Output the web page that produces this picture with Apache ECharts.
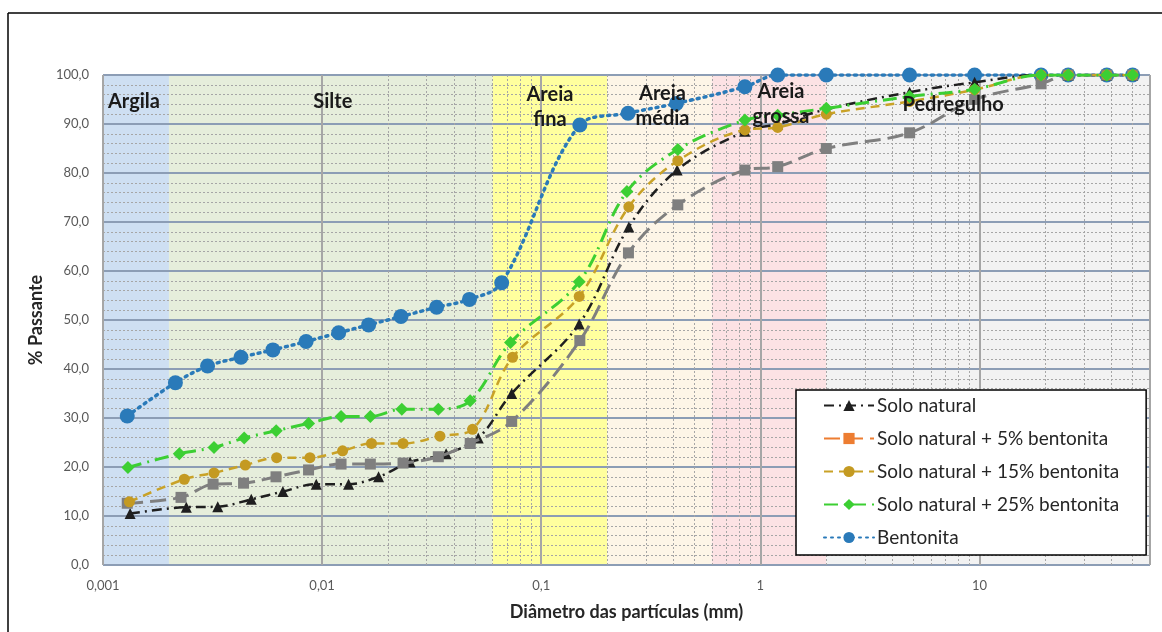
<!DOCTYPE html>
<html><head><meta charset="utf-8">
<script src="https://cdn.jsdelivr.net/npm/echarts@6/dist/echarts.min.js"></script>
<style>html,body{margin:0;padding:0;background:#fff}#c{width:1162px;height:632px}</style>
</head><body><div id="c"></div><script>
// ---- data ----
const xTickLabels = ['0,001', '0,01', '0,1', '1', '10'];
const seriesNames = ['Solo natural', 'Solo natural + 5% bentonita', 'Solo natural + 15% bentonita', 'Solo natural + 25% bentonita', 'Bentonita'];

const naturalD = [0.00133, 0.0024, 0.00334, 0.00475, 0.00662, 0.0094, 0.0132, 0.0181, 0.0252, 0.0368, 0.0516, 0.0733, 0.149, 0.251, 0.417, 0.85, 1.2, 2.0, 4.8, 9.5, 19.1, 25.4, 38.1, 50];
const naturalP = [10.5, 11.8, 11.9, 13.4, 15.0, 16.5, 16.5, 18.0, 21.0, 22.7, 25.9, 35.0, 49.2, 69.0, 80.6, 88.5, 90.0, 93.0, 96.5, 98.5, 100, 100, 100, 100];

const b5D = [0.00129, 0.00227, 0.00318, 0.00438, 0.00616, 0.00867, 0.0122, 0.0166, 0.0234, 0.0339, 0.0474, 0.0733, 0.15, 0.25, 0.42, 0.85, 1.2, 2.0, 4.8, 9.5, 19.1, 25.4, 38.1, 50];
const b5P = [12.6, 13.8, 16.5, 16.7, 18.0, 19.4, 20.6, 20.6, 20.8, 22.1, 24.8, 29.3, 45.8, 63.7, 73.5, 80.6, 81.3, 85.0, 88.2, 95.0, 98.2, 100, 100, 100];

const b15D = [0.00132, 0.00235, 0.00321, 0.00446, 0.0062, 0.0088, 0.0124, 0.0168, 0.0234, 0.0345, 0.0486, 0.074, 0.149, 0.251, 0.42, 0.85, 1.2, 2.0, 4.8, 9.5, 19.1, 25.4, 38.1, 50];
const b15P = [12.9, 17.5, 18.8, 20.4, 21.9, 21.9, 23.3, 24.8, 24.8, 26.3, 27.7, 42.4, 54.8, 73.1, 82.5, 88.8, 89.3, 92.0, 94.6, 97.0, 100, 100, 100, 100];

const b25D = [0.0013, 0.00223, 0.00321, 0.00441, 0.00617, 0.00867, 0.0122, 0.0166, 0.0231, 0.0339, 0.0474, 0.0724, 0.149, 0.246, 0.42, 0.85, 1.2, 2.0, 4.8, 9.5, 19.1, 25.4, 38.1, 50];
const b25P = [19.9, 22.7, 24.0, 25.9, 27.4, 28.9, 30.3, 30.3, 31.8, 31.8, 33.5, 45.4, 57.8, 76.2, 84.8, 90.8, 91.8, 93.2, 95.6, 97.1, 100, 100, 100, 100];

const bentD = [0.00129, 0.00214, 0.0030, 0.00426, 0.00596, 0.00845, 0.0119, 0.0163, 0.0229, 0.0333, 0.047, 0.066, 0.15, 0.249, 0.414, 0.85, 1.2, 2.0, 4.8, 9.5, 19.1, 25.4, 38.1, 50];
const bentP = [30.4, 37.2, 40.6, 42.4, 43.9, 45.6, 47.4, 49.0, 50.7, 52.6, 54.2, 57.6, 89.8, 92.2, 94.2, 97.6, 100, 100, 100, 100, 100, 100, 100, 100];

const bandNames = ['Argila', 'Silte', 'Areia\nfina', 'Areia\nmédia', 'Areia\ngrossa', 'Pedregulho'];
const bandLimits = [0.001, 0.002, 0.06, 0.2, 0.6, 2, 60];

const minorMultipliers = [2, 3, 4, 5, 6, 7, 8, 9];
const decades = [0.001, 0.01, 0.1, 1, 10];

// ---- styles ----
const FONT = 'Lato, "Open Sans", sans-serif';
const bandColors = ['#cedff2', '#e6eedb', '#ffff9e', '#fdf5e7', '#fce2e4', '#f2f2f2'];
const bandLabelOffsets = [[-2, 16], [2, 16], [0, 7], [3, 6], [12, 4], [-35, 19]];

const zip = (a, b) => a.map((d, i) => [d, b[i]]);

const minorLines = [];
decades.forEach(dec => minorMultipliers.forEach(m => {
  const v = dec * m;
  if (v < 60) minorLines.push({xAxis: v});
}));

const bandAreas = bandNames.map((n, i) => [
  {xAxis: bandLimits[i], yAxis: 0, itemStyle: {color: bandColors[i]}},
  {xAxis: bandLimits[i + 1], yAxis: 100}
]);
const bandLabels = bandNames.map((n, i) => [
  {
    name: n, xAxis: bandLimits[i], yAxis: 0,
    itemStyle: {color: 'rgba(0,0,0,0)'},
    label: {show: true, position: 'insideTop', distance: 0, offset: bandLabelOffsets[i],
      formatter: n, fontFamily: FONT, fontWeight: 'bold', fontSize: 20,
      lineHeight: (i >= 2 && i <= 4) ? 25 : 22, color: '#1a1a1a', align: 'center'}
  },
  {xAxis: bandLimits[i + 1], yAxis: 100}
]);

const chart = echarts.init(document.getElementById('c'), null, {renderer: 'canvas'});
chart.setOption({
  animation: false,
  textStyle: {fontFamily: FONT},
  graphic: [
    {type: 'line', shape: {x1: 8, y1: 13, x2: 1162, y2: 13}, style: {stroke: '#000', lineWidth: 1.5}},
    {type: 'line', shape: {x1: 8, y1: 13, x2: 8, y2: 632}, style: {stroke: '#000', lineWidth: 1.5}}
  ],
  grid: {left: 103, right: 12, top: 75, bottom: 67},
  xAxis: {
    type: 'log', logBase: 10, min: 0.001, max: 60,
    name: 'Diâmetro das partículas (mm)', nameLocation: 'middle', nameGap: 38,
    nameTextStyle: {fontFamily: FONT, fontWeight: 'bold', fontSize: 18, color: '#262626'},
    axisLine: {show: false}, axisTick: {show: false},
    axisLabel: {
      fontFamily: FONT, fontSize: 13, color: '#595959', margin: 14, showMaxLabel: false,
      formatter: v => {
        const e = Math.log10(v);
        if (Math.abs(e - Math.round(e)) > 1e-6) return '';
        return xTickLabels[Math.round(e) + 3] || '';
      }
    },
    splitLine: {show: true, lineStyle: {color: '#a6a6a6', width: 2}}
  },
  yAxis: {
    type: 'value', min: 0, max: 100, interval: 10,
    name: '% Passante', nameLocation: 'middle', nameGap: 58,
    nameTextStyle: {fontFamily: FONT, fontWeight: 'bold', fontSize: 18, color: '#262626'},
    axisLine: {show: false}, axisTick: {show: false},
    axisLabel: {fontFamily: FONT, fontSize: 13, color: '#595959', margin: 14,
      formatter: v => v.toFixed(1).replace('.', ',')},
    splitLine: {show: true, lineStyle: {color: '#8c9db5', width: 2}},
    minorTick: {show: false, splitNumber: 5},
    minorSplitLine: {show: true, lineStyle: {color: '#a6a6a6', width: 1, type: [2, 2]}}
  },
  legend: {
    orient: 'vertical', left: 796, top: 390,
    backgroundColor: '#fff', borderColor: '#000', borderWidth: 1.5,
    padding: [5, 27, 7, 27], itemGap: 12, itemWidth: 50, itemHeight: 14,
    textStyle: {fontFamily: FONT, fontSize: 19, color: '#262626', lineHeight: 21, padding: [0, 0, 0, -2]},
    data: [
      {name: seriesNames[0]},
      {name: seriesNames[1], itemStyle: {color: '#ed7d31'}, lineStyle: {color: '#ed7d31'}},
      {name: seriesNames[2]},
      {name: seriesNames[3]},
      {name: seriesNames[4]}
    ]
  },
  series: [
    {
      name: 'bands', type: 'line', data: [], silent: true, z: 1,
      markArea: {silent: true, z: -1, data: bandAreas},
      markLine: {silent: true, symbol: 'none', z: 3, label: {show: false},
        lineStyle: {color: '#a6a6a6', width: 1, type: [2, 2]}, data: minorLines}
    },
    {
      name: 'bandLabels', type: 'line', data: [], silent: true, z: 30,
      markArea: {silent: true, z: 30, data: bandLabels}
    },
    {
      name: seriesNames[0], type: 'line', z: 10, data: zip(naturalD, naturalP), smooth: 0.35,
      symbol: 'triangle', symbolSize: 11, color: '#1f1f1f',
      itemStyle: {color: '#1f1f1f'},
      lineStyle: {color: '#1f1f1f', width: 2.5, type: [10, 5, 2, 5]}
    },
    {
      name: seriesNames[1], type: 'line', z: 11, data: zip(b5D, b5P), smooth: 0.35,
      symbol: 'rect', symbolSize: 11, color: '#7f7f7f',
      itemStyle: {color: '#7f7f7f'},
      lineStyle: {color: '#7f7f7f', width: 3, type: [16, 7]}
    },
    {
      name: seriesNames[2], type: 'line', z: 12, data: zip(b15D, b15P), smooth: 0.35,
      symbol: 'circle', symbolSize: 11, color: '#c49a22',
      itemStyle: {color: '#c49a22'},
      lineStyle: {color: '#c9a227', width: 2.5, type: [9, 6]}
    },
    {
      name: seriesNames[3], type: 'line', z: 13, data: zip(b25D, b25P), smooth: 0.35,
      symbol: 'diamond', symbolSize: 13, color: '#3ccf33',
      itemStyle: {color: '#3ccf33'},
      lineStyle: {color: '#3ccf33', width: 3, type: [14, 6, 2, 6]}
    },
    {
      name: seriesNames[4], type: 'line', z: 9, data: zip(bentD, bentP), smooth: 0.35,
      symbol: 'circle', symbolSize: 15, color: '#2a7ab9',
      itemStyle: {color: '#2a7ab9'},
      lineStyle: {color: '#2a7ab9', width: 3.5, type: [2, 5], cap: 'round'}
    }
  ]
});
</script></body></html>
